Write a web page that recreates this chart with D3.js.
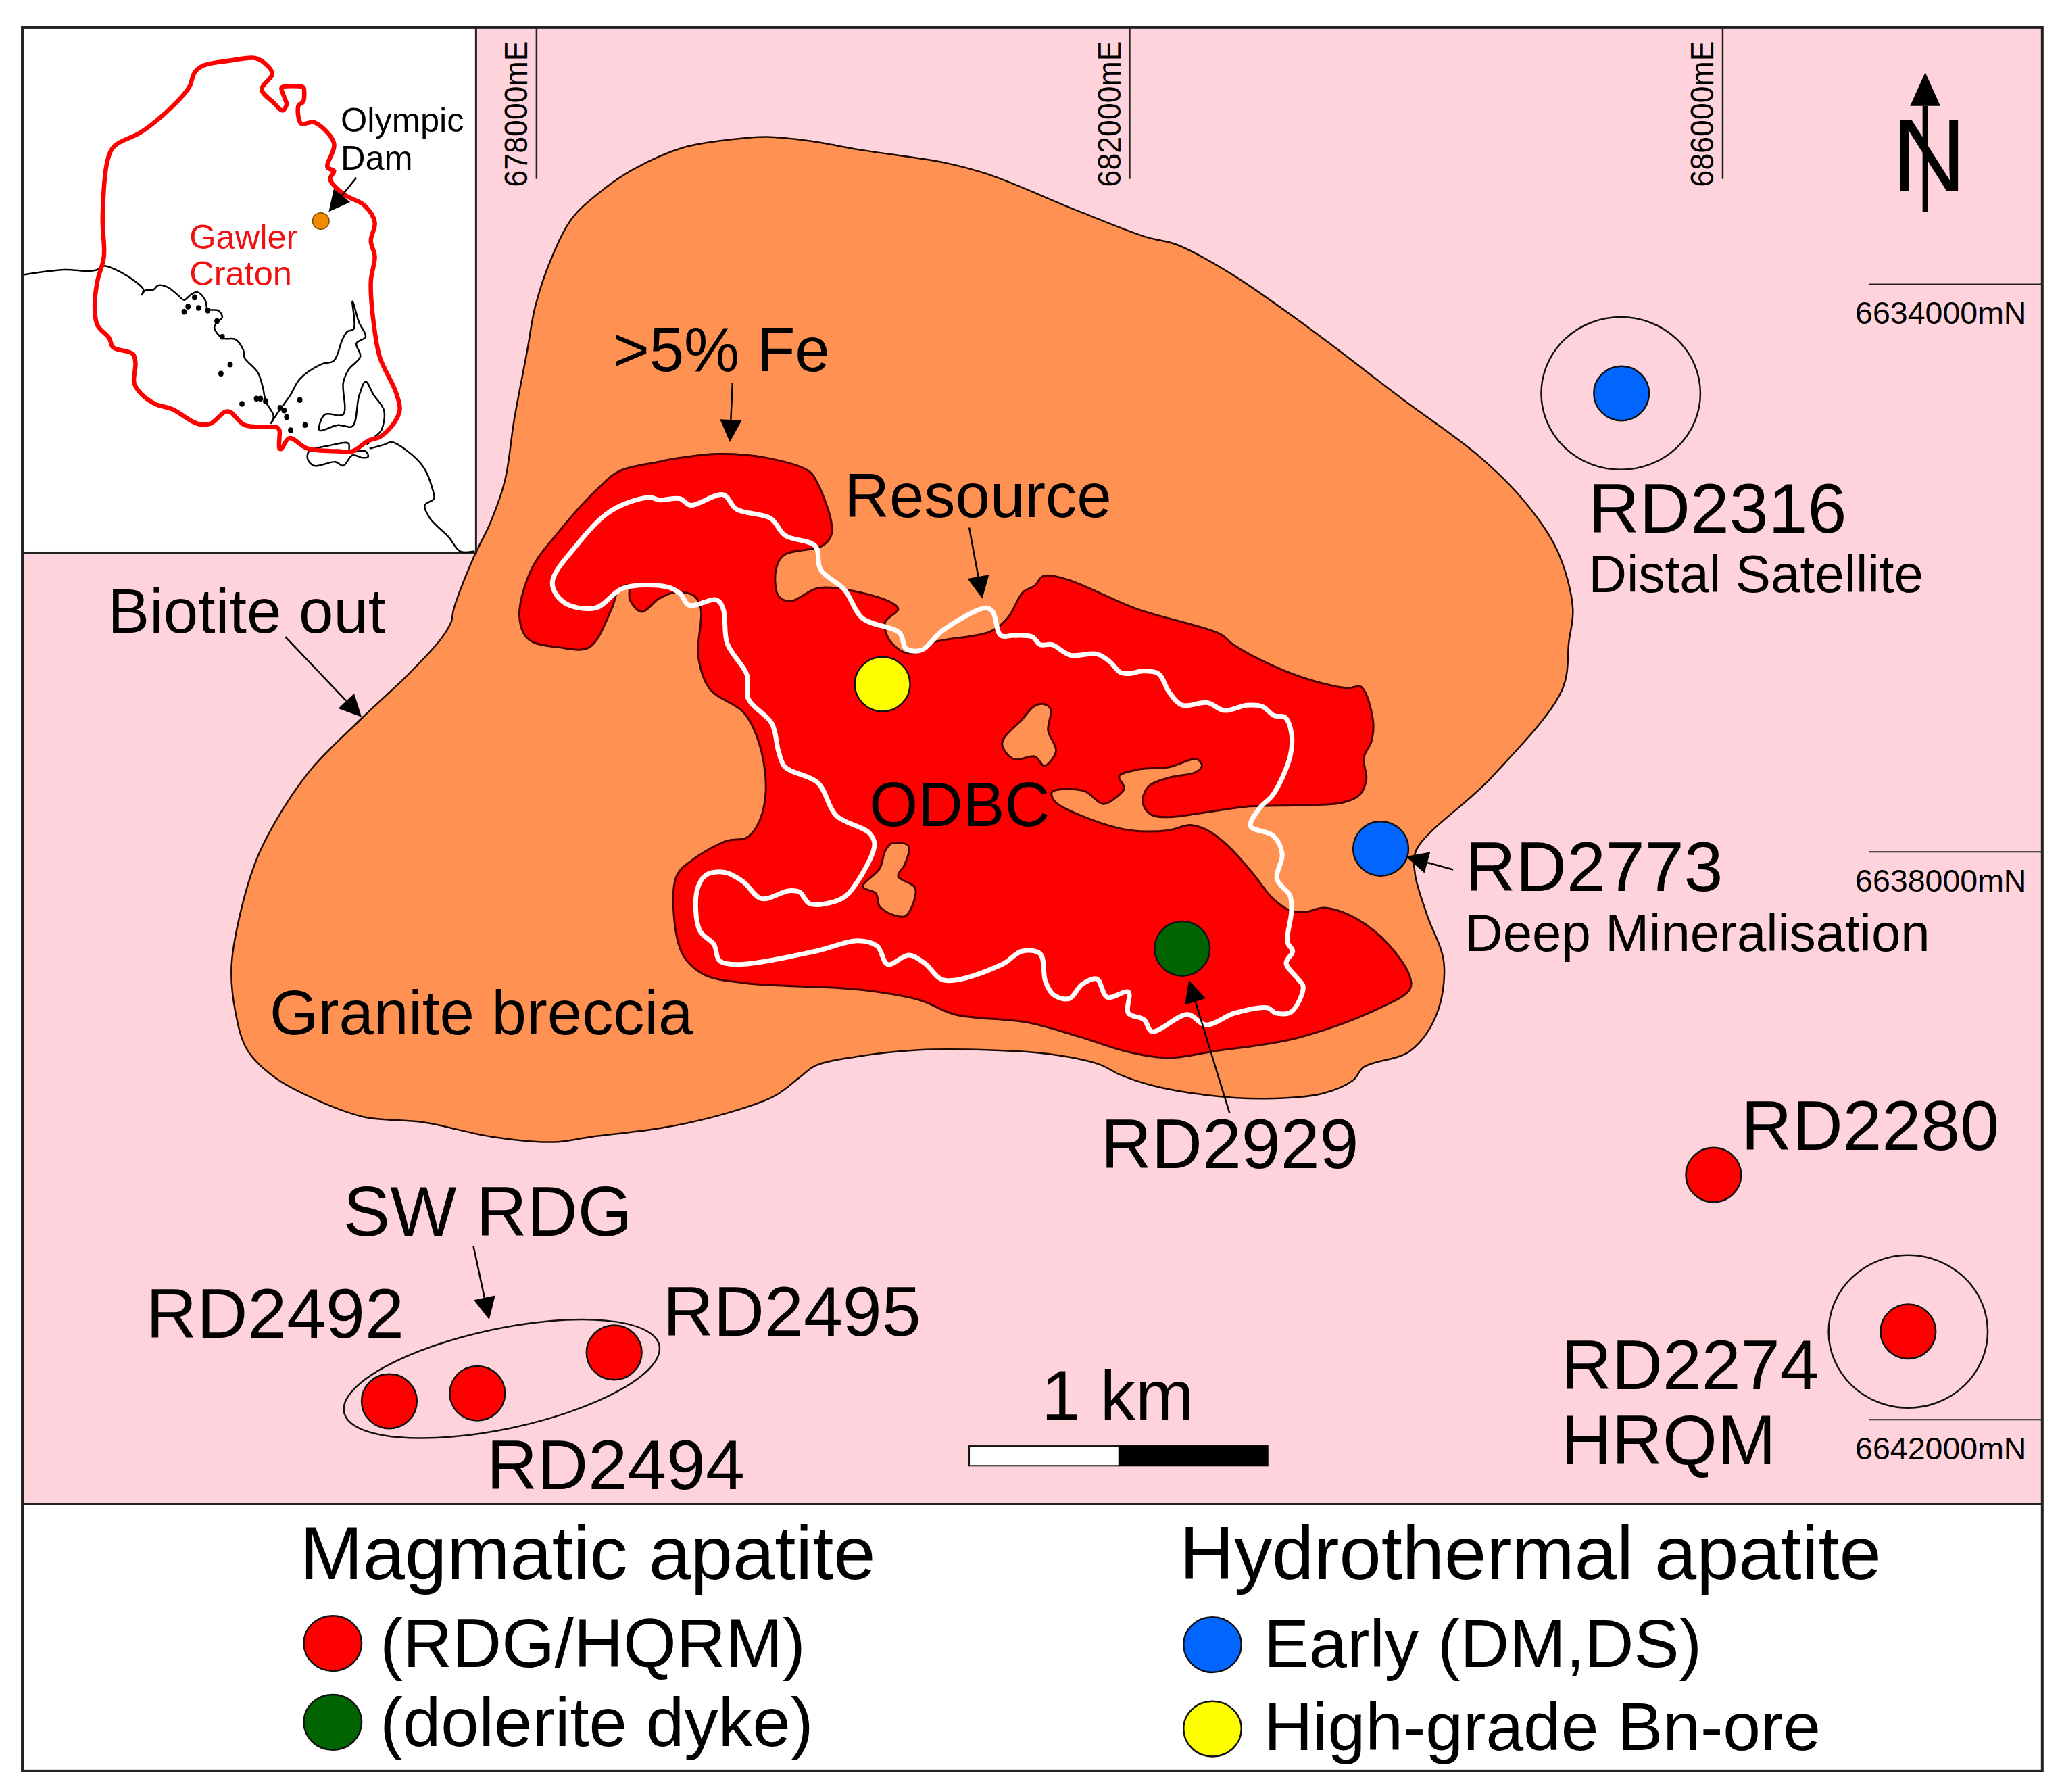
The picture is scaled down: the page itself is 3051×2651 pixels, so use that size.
<!DOCTYPE html>
<html lang="en">
<head>
  <meta charset="UTF-8">
  <title>Olympic Dam geological sketch map</title>
  <style>
    body { margin: 0; background: #fff; }
    svg { display: block; }
    text { font-family: "Liberation Sans", Arial, sans-serif; fill: #000; }
  </style>
</head>
<body>
  <div class="map"></div>
  <script src="https://cdnjs.cloudflare.com/ajax/libs/d3/7.8.5/d3.min.js"></script>
  <script>
    // everything in sheet units (0-1568 across, 0-1362 down)
    const eastings = [678000, 682000, 686000];
    const northings = [6634000, 6638000, 6642000];

    const graniteBreccia = [[360,424],[373,397],[384,365],[391,319],[401,266],[407,233],[419,197],[435,166],[455,147],[481,129],[520,112],[556,106],[583,104],[615,107],[655,114],[720,124],[753,133],[819,160],[871,180],[895,186],[936,208],[995,249],[1066,303],[1125,347],[1160,382],[1184,418],[1196,462],[1193,488],[1188,524],[1134,591],[1077,646],[1076,664],[1085,695],[1098,732],[1092,772],[1072,799],[1037,811],[1029,821],[1006,831],[962,835],[915,832],[876,825],[852,817],[836,809],[797,801],[750,798],[699,798],[652,803],[620,810],[608,819],[589,833],[553,846],[505,857],[450,864],[421,868],[374,864],[322,853],[277,849],[243,837],[209,819],[188,798],[179,769],[176,735],[183,693],[196,651],[217,612],[238,583],[275,546],[311,512],[335,486],[343,473],[345,463]];

    const ironZone = [[395,469],[404,433],[425,404],[455,371],[471,358],[501,351],[517,348],[546,345],[583,348],[615,358],[622,368],[632,396],[632,407],[625,415],[596,422],[590,433],[592,453],[601,457],[622,447],[648,449],[678,458],[683,463],[673,473],[676,486],[688,496],[697,496],[707,489],[753,480],[766,470],[778,450],[787,445],[793,438],[810,440],[865,463],[928,482],[938,490],[968,506],[997,517],[1025,523],[1035,522],[1044,547],[1043,563],[1037,576],[1039,592],[1034,604],[1021,610],[987,612],[948,613],[913,618],[889,621],[875,619],[869,610],[873,598],[889,591],[909,587],[914,582],[910,577],[889,583],[865,585],[851,590],[855,599],[850,605],[839,611],[824,601],[800,602],[802,609],[830,623],[859,631],[889,631],[905,627],[918,631],[934,643],[952,663],[968,683],[981,692],[993,693],[1007,690],[1031,698],[1056,718],[1072,742],[1072,752],[1045,768],[986,789],[923,799],[888,804],[856,799],[821,788],[781,777],[726,771],[699,760],[652,752],[565,747],[534,740],[518,723],[514,667],[526,654],[553,639],[567,637],[575,629],[582,606],[579,571],[566,542],[540,524],[531,499],[533,463],[528,453],[514,450],[501,455],[488,465],[479,456],[478,445],[471,447],[465,463],[448,492],[425,492],[402,486]];

    const brecciaHoleA = [[786,537],[793,535],[799,539],[797,555],[803,571],[794,582],[787,575],[771,577],[762,565],[778,546]];
    const brecciaHoleB = [[678,641],[691,643],[688,657],[683,666],[696,675],[689,696],[681,696],[669,689],[666,679],[656,674],[669,660],[673,647]];

    const resourceLine = [[420,443],[438,415],[465,388],[494,378],[501,380],[517,379],[525,384],[550,376],[560,387],[586,394],[597,407],[620,415],[624,433],[642,448],[656,470],[684,481],[689,493],[701,494],[717,479],[750,462],[755,465],[761,483],[771,483],[785,484],[791,490],[800,490],[814,498],[834,497],[844,503],[852,511],[859,512],[869,510],[881,512],[889,526],[899,536],[918,534],[931,540],[948,536],[960,537],[969,544],[977,545],[982,557],[981,575],[968,604],[958,614],[951,628],[968,635],[975,649],[971,668],[981,681],[982,693],[979,716],[983,723],[978,732],[987,744],[991,750],[982,769],[970,770],[964,766],[939,770],[917,779],[903,771],[876,784],[870,775],[858,770],[858,754],[842,758],[834,744],[823,748],[813,759],[801,756],[795,746],[791,725],[777,723],[762,733],[718,745],[703,732],[691,726],[675,733],[667,719],[652,715],[620,723],[561,733],[547,730],[543,718],[532,707],[530,677],[537,665],[551,663],[565,670],[579,683],[600,677],[608,678],[616,687],[640,683],[650,673],[665,642],[661,633],[636,620],[622,595],[597,583],[592,571],[587,550],[569,531],[568,513],[553,489],[550,463],[545,456],[524,460],[517,451],[507,446],[474,447],[453,462],[429,458]];

    const gawlerCraton = [[193,44],[200,47],[207,56],[199,68],[208,78],[215,84],[218,79],[217,76],[214,67],[215,66],[230,66],[231,67],[231,76],[230,78],[227,80],[229,94],[239,93],[254,109],[249,127],[254,130],[251,136],[262,148],[277,156],[285,169],[282,183],[285,195],[282,214],[285,252],[289,272],[301,298],[304,311],[300,321],[289,332],[280,335],[268,343],[257,343],[234,341],[220,333],[214,341],[212.5,341],[212.5,327],[211,325],[186,323],[175,313],[171,313],[160,322],[150,322],[131,311],[118,307],[107,299],[102,291],[103,276],[101,269],[86,264],[83,257],[74,247],[72,233],[74,214],[79,195],[78,165],[82,121],[87,111],[108,100],[134,78],[144,66],[148,55],[154,50],[175,46]];

    const coastWest = [[17,209],[49,205],[67,206],[74,205],[79,202],[92,207],[103,214],[109,220],[108,224],[110,221],[117,220],[120,217],[127,218],[135,224],[140,228],[145,224],[150,222],[156,228],[158,235],[166,236],[169,241],[165,245],[163,249],[169,257],[179,258],[185,266],[186,272],[196,283],[200,295],[202,305],[208,316],[206,322]];
    const coastGulfs = [[206,322],[211,314],[221,300],[228,288],[244,277],[254,274],[260,259],[264,252],[269,250],[268,229],[273,245],[278,256],[271,261],[274,271],[265,281],[261,291],[261,315],[247,315],[243,327],[257,323],[268,324],[273,301],[278,290],[284,300],[292,312],[290,327],[285,332],[279,338]];
    const coastEast = [[281,341],[292,338],[298,336],[310,343],[322,355],[329,372],[330,379],[323,384],[327,394],[341,408],[350,419],[361,419]];
    const kangarooIsland = [[235,343],[249,339],[265,337],[266,343],[278,343],[280,347],[276,348],[268,346],[261,354],[255,351],[239,354],[234,349]];
    const smallIslands = [[175,277],[168,284],[184,307],[198,303],[202,305],[195,303],[216,312],[218,317],[213,310],[228,304],[232,323],[221,327],[140,237],[151,234],[143,233],[148,226],[165,244],[158,236],[169,256]];

    const siteNames = ["RD2316", "RD2773", "High-grade", "RD2929", "RD2280", "RD2274", "RD2492", "RD2494", "RD2495"];
    const siteX = [1233, 1050, 671, 899, 1303, 1451, 296, 363, 467];
    const siteY = [299, 645, 520, 721, 893, 1012, 1065, 1059, 1028];
    const siteApatite = ["early", "early", "highGrade", "dyke", "rdg", "rdg", "rdg", "rdg", "rdg"];

    const ringCentres = [[1232.5, 299], [1451, 1012]];

    const apatiteTypes = ["rdg", "dyke", "early", "highGrade"];
    const apatiteColours = ["#ff0000", "#006400", "#0066ff", "#ffff00"];
    const legendLabels = ["(RDG/HQRM)", "(dolerite dyke)", "Early (DM,DS)", "High-grade Bn-ore"];
    const legendDotX = [253, 253, 922, 922];
    const legendDotY = [1249, 1309, 1250, 1314];
    const legendTextX = [289, 289, 961, 961];
    const legendTextY = [1267, 1327, 1267, 1330];
    const legendSizes = [52, 52, 51.7, 51.5];

    // [text, x, baseline, size]
    const labels = [
      [">5% Fe", 466, 282, 47.5], ["Resource", 642, 393, 47.5], ["Biotite out", 82, 481, 47.5],
      ["Granite breccia", 205, 786, 47.5], ["ODBC", 661, 628, 47.5],
      ["RD2316", 1208, 405, 53.5], ["Distal Satellite", 1208, 450, 40.2],
      ["RD2773", 1114, 677, 53.5], ["Deep Mineralisation", 1114, 723, 40],
      ["RD2929", 837, 888, 53.5], ["RD2280", 1324, 874, 53.5],
      ["RD2274", 1187, 1056, 53.5], ["HRQM", 1187, 1113, 53.5],
      ["SW RDG", 261, 939, 53.5], ["RD2492", 111, 1017, 53.5], ["RD2495", 504, 1015, 53.5],
      ["RD2494", 370, 1132, 53.5], ["1 km", 792, 1079, 53.5],
      ["Magmatic apatite", 228, 1200, 57.5], ["Hydrothermal apatite", 897, 1200, 57.5],
      ["Olympic", 259, 100, 26], ["Dam", 259, 129, 26]
    ];
    const cratonLabels = [["Gawler", 144, 189], ["Craton", 144, 217]];

    // [from x, from y, tip x, tip y]
    const arrows = [
      [557, 291, 555, 336], [737, 401, 747, 455], [217, 484, 275, 545],
      [1105, 661, 1069, 651], [935, 846, 904, 745], [360, 947, 372, 1003]
    ];

    const x = d3.scaleLinear().domain([0, 1568]).range([0, 3051]);
    const y = d3.scaleLinear().domain([0, 1362]).range([0, 2651]);
    const gridX = d3.scaleLinear().domain([678000, 686000]).range([408, 1310]);
    const gridY = d3.scaleLinear().domain([6634000, 6642000]).range([216, 1079]);
    const colour = d3.scaleOrdinal().domain(apatiteTypes).range(apatiteColours);

    const svg = d3.select('.map').append('svg')
      .attr('width', 3051)
      .attr('height', 2651);

    const smooth = d3.line().x(d => x(d[0])).y(d => y(d[1])).curve(d3.curveCatmullRomClosed.alpha(0.5));
    const smoothOpen = d3.line().x(d => x(d[0])).y(d => y(d[1])).curve(d3.curveCatmullRom.alpha(0.5));
    const straight = d3.line().x(d => x(d[0])).y(d => y(d[1]));

    function box(x0, y0, x1, y1, fill, stroke, width) {
      return svg.append('rect')
        .attr('x', x(x0)).attr('y', y(y0))
        .attr('width', x(x1) - x(x0)).attr('height', y(y1) - y(y0))
        .attr('fill', fill).attr('stroke', stroke).attr('stroke-width', width);
    }

    function oval(cx, cy, rx, ry, fill, stroke, width) {
      return svg.append('ellipse')
        .attr('cx', x(cx)).attr('cy', y(cy))
        .attr('rx', x(rx)).attr('ry', y(ry))
        .attr('fill', fill).attr('stroke', stroke).attr('stroke-width', width);
    }

    function arrow(a, headLen, headHalf, shaft) {
      const dx = a[2] - a[0], dy = a[3] - a[1];
      const len = Math.hypot(dx, dy);
      const ux = dx / len, uy = dy / len;
      const bx = a[2] - ux * headLen, by = a[3] - uy * headLen;
      svg.append('path')
        .attr('d', straight([[a[0], a[1]], [bx, by]]))
        .attr('stroke', '#000').attr('stroke-width', shaft);
      svg.append('path')
        .attr('d', straight([[a[2], a[3]], [bx - uy * headHalf, by + ux * headHalf], [bx + uy * headHalf, by - ux * headHalf]]) + 'Z')
        .attr('fill', '#000');
    }

    // map sheet
    box(17, 21, 1553, 1143, '#ffd3db', 'none', 0);

    // geology
    svg.append('path').attr('d', smooth(graniteBreccia))
      .attr('fill', '#ff9252').attr('stroke', '#1a0a00').attr('stroke-width', 2.5);
    svg.append('path').attr('d', smooth(ironZone))
      .attr('fill', '#ff0000').attr('stroke', '#4d0000').attr('stroke-width', 3);
    [brecciaHoleA, brecciaHoleB].forEach(hole => {
      svg.append('path').attr('d', smooth(hole))
        .attr('fill', '#ff9252').attr('stroke', '#4d0000').attr('stroke-width', 3);
    });
    svg.append('path').attr('d', smooth(resourceLine))
      .attr('fill', 'none').attr('stroke', '#fff').attr('stroke-width', 7).attr('stroke-linejoin', 'round');

    // inset over the top left corner
    box(17, 21, 362, 420, '#fff', '#222', 3);
    [coastWest, coastGulfs, coastEast].forEach(c => {
      svg.append('path').attr('d', smoothOpen(c))
        .attr('fill', 'none').attr('stroke', '#000').attr('stroke-width', 2.5);
    });
    svg.append('path').attr('d', smooth(kangarooIsland))
      .attr('fill', 'none').attr('stroke', '#000').attr('stroke-width', 2.5);
    smallIslands.forEach(d => oval(d[0], d[1], 2, 2.2, '#000', 'none', 0));
    svg.append('path').attr('d', smooth(gawlerCraton))
      .attr('fill', 'none').attr('stroke', '#f00').attr('stroke-width', 6.5).attr('stroke-linejoin', 'round');
    oval(244, 168, 6.3, 6.3, '#f28a00', '#7a4a00', 1.5);
    arrow([271, 135, 250, 161], 16, 8, 2.5);

    // grid ticks
    eastings.forEach(e => {
      svg.append('line')
        .attr('x1', x(gridX(e))).attr('x2', x(gridX(e)))
        .attr('y1', y(21)).attr('y2', y(136))
        .attr('stroke', '#222').attr('stroke-width', 2.5);
      svg.append('text')
        .attr('transform', `translate(${x(gridX(e) - 7)},${y(142)}) rotate(-90)`)
        .attr('font-size', x(24.5))
        .attr('textLength', x(111))
        .attr('lengthAdjust', 'spacingAndGlyphs')
        .text(e + 'mE');
    });
    northings.forEach(n => {
      svg.append('line')
        .attr('x1', x(1421)).attr('x2', x(1553))
        .attr('y1', y(gridY(n))).attr('y2', y(gridY(n)))
        .attr('stroke', '#222').attr('stroke-width', 2);
      svg.append('text')
        .attr('x', x(1541)).attr('y', y(gridY(n) + 30))
        .attr('text-anchor', 'end')
        .attr('font-size', x(23.9))
        .text(n + 'mN');
    });

    // rings round the satellite holes and the SW RDG group
    ringCentres.forEach(c => oval(c[0], c[1], 60.5, 58, 'none', '#111', 2.5));
    oval(381.5, 1048, 122.5, 38, 'none', '#111', 2.5)
      .attr('transform', `rotate(-12 ${x(381.5)} ${y(1048)})`);

    // drill holes
    svg.selectAll('.site')
      .data(siteNames)
      .join('ellipse')
      .attr('class', 'site')
      .attr('cx', (d, i) => x(siteX[i]))
      .attr('cy', (d, i) => y(siteY[i]))
      .attr('rx', x(21))
      .attr('ry', y(20.7))
      .attr('fill', (d, i) => colour(siteApatite[i]))
      .attr('stroke', '#111')
      .attr('stroke-width', 2.5);

    arrows.forEach(a => arrow(a, 17, 8.3, 2.5));

    // north arrow
    arrow([1464, 161, 1464, 55], 25.5, 11.5, 8);
    svg.append('text')
      .attr('x', x(1467)).attr('y', y(144.7))
      .attr('text-anchor', 'middle')
      .attr('font-size', x(78.5))
      .text('N');

    // scale bar
    box(737, 1099, 851, 1114, '#fff', '#111', 2);
    box(851, 1099, 964, 1114, '#000', '#000', 2);

    // frame
    box(17, 21, 1553, 1346, 'none', '#222', 4);
    svg.append('line')
      .attr('x1', x(17)).attr('x2', x(1553))
      .attr('y1', y(1143)).attr('y2', y(1143))
      .attr('stroke', '#222').attr('stroke-width', 3);

    // legend
    svg.selectAll('.key')
      .data(apatiteTypes)
      .join('ellipse')
      .attr('class', 'key')
      .attr('cx', (d, i) => x(legendDotX[i]))
      .attr('cy', (d, i) => y(legendDotY[i]))
      .attr('rx', x(22))
      .attr('ry', y(21))
      .attr('fill', d => colour(d))
      .attr('stroke', '#111')
      .attr('stroke-width', 2.5);

    svg.selectAll('.key-label')
      .data(legendLabels)
      .join('text')
      .attr('class', 'key-label')
      .attr('x', (d, i) => x(legendTextX[i]))
      .attr('y', (d, i) => y(legendTextY[i]))
      .attr('font-size', (d, i) => x(legendSizes[i]))
      .text(d => d);

    svg.selectAll('.label')
      .data(labels)
      .join('text')
      .attr('class', 'label')
      .attr('x', d => x(d[1]))
      .attr('y', d => y(d[2]))
      .attr('font-size', d => x(d[3]))
      .text(d => d[0]);

    svg.selectAll('.craton')
      .data(cratonLabels)
      .join('text')
      .attr('class', 'craton')
      .attr('x', d => x(d[1]))
      .attr('y', d => y(d[2]))
      .attr('font-size', x(26))
      .style('fill', '#f01010')
      .text(d => d[0]);
  </script>
</body>
</html>
